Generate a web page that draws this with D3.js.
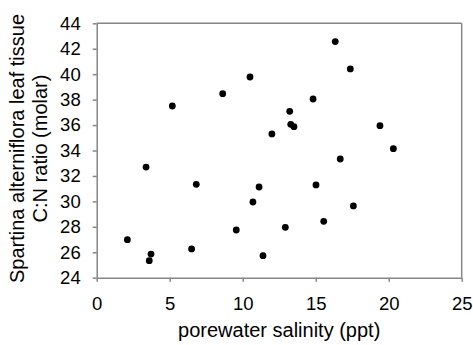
<!DOCTYPE html>
<html>
<head>
<meta charset="utf-8">
<script src="https://cdn.jsdelivr.net/npm/d3@7"></script>
<style>
  body { margin: 0; background: #fff; }
  text { font-family: "Liberation Sans", Arial, sans-serif; fill: #000; }
</style>
</head>
<body>
<div id="chart"></div>
<script>
// porewater salinity (ppt) vs C:N ratio
var salinity = [5.18, 8.63, 3.38, 16.34, 17.37, 10.5, 14.82, 13.22, 13.29, 13.51, 12.0, 19.4, 20.32, 16.68,
  6.82, 2.10, 3.72, 3.60, 6.5, 9.56, 11.12, 15.02, 10.7, 17.58, 15.55, 12.92, 11.39];
var cnRatio = [37.5, 38.47, 32.7, 42.56, 40.41, 39.78, 38.05, 37.08, 36.06, 35.87, 35.3, 35.95, 34.14, 33.33,
  31.34, 26.99, 25.86, 25.34, 26.26, 27.75, 31.13, 31.29, 29.95, 29.64, 28.43, 27.96, 25.73];
var xTicks = [0, 5, 10, 15, 20, 25];
var yTicks = [24, 26, 28, 30, 32, 34, 36, 38, 40, 42, 44];

var data = salinity.map(function (s, i) { return { x: s, y: cnRatio[i] }; });

var W = 473, H = 345;
var margin = { top: 23.3, right: 11.3, bottom: 67.3, left: 96.7 };
var width = W - margin.left - margin.right,
  height = H - margin.top - margin.bottom;

var svg = d3.select("#chart").append("svg")
  .attr("width", W)
  .attr("height", H);

var g = svg.append("g")
  .attr("transform", "translate(" + margin.left + "," + margin.top + ")");

var x = d3.scaleLinear().domain([0, 25]).range([0, width]);
var y = d3.scaleLinear().domain([24, 44]).range([height, 0]);

var axisColor = "#868686";

// frame top + right
g.append("line")
  .attr("x1", 0).attr("x2", width).attr("y1", 0).attr("y2", 0)
  .attr("stroke", axisColor).attr("stroke-width", 1.5);
g.append("line")
  .attr("x1", width).attr("x2", width).attr("y1", 0).attr("y2", height)
  .attr("stroke", axisColor).attr("stroke-width", 1.5);

var xAxis = g.append("g")
  .attr("transform", "translate(0," + height + ")")
  .call(d3.axisBottom(x).tickValues(xTicks).tickSize(4).tickPadding(15).tickSizeOuter(0));

var yAxis = g.append("g")
  .call(d3.axisLeft(y).tickValues(yTicks).tickSize(4).tickPadding(12).tickSizeOuter(0));

[xAxis, yAxis].forEach(function (a) {
  a.select(".domain").attr("stroke", axisColor).attr("stroke-width", 1.5);
  a.selectAll(".tick line").attr("stroke", axisColor).attr("stroke-width", 1.5);
  a.selectAll(".tick text")
    .style("font-family", "'Liberation Sans', Arial, sans-serif")
    .style("font-size", "18.5px")
    .attr("fill", "#000");
});

// points
g.selectAll("circle.pt")
  .data(data)
  .enter().append("circle")
  .attr("class", "pt")
  .attr("cx", function (d) { return x(d.x); })
  .attr("cy", function (d) { return y(d.y); })
  .attr("r", 3.4)
  .attr("fill", "#000");

// axis titles
svg.append("text")
  .attr("x", margin.left + width / 2)
  .attr("y", 337)
  .attr("text-anchor", "middle")
  .style("font-size", "20px")
  .text("porewater salinity (ppt)");

var yTitle = svg.append("text")
  .attr("transform", "translate(24," + (margin.top + height / 2 - 2) + ") rotate(-90)")
  .attr("text-anchor", "middle")
  .style("font-size", "20px");
yTitle.append("tspan").attr("x", 0).attr("y", 0).text("Spartina alterniflora leaf tissue");
yTitle.append("tspan").attr("x", 0).attr("y", 23).text("C:N ratio (molar)");
</script>
</body>
</html>
